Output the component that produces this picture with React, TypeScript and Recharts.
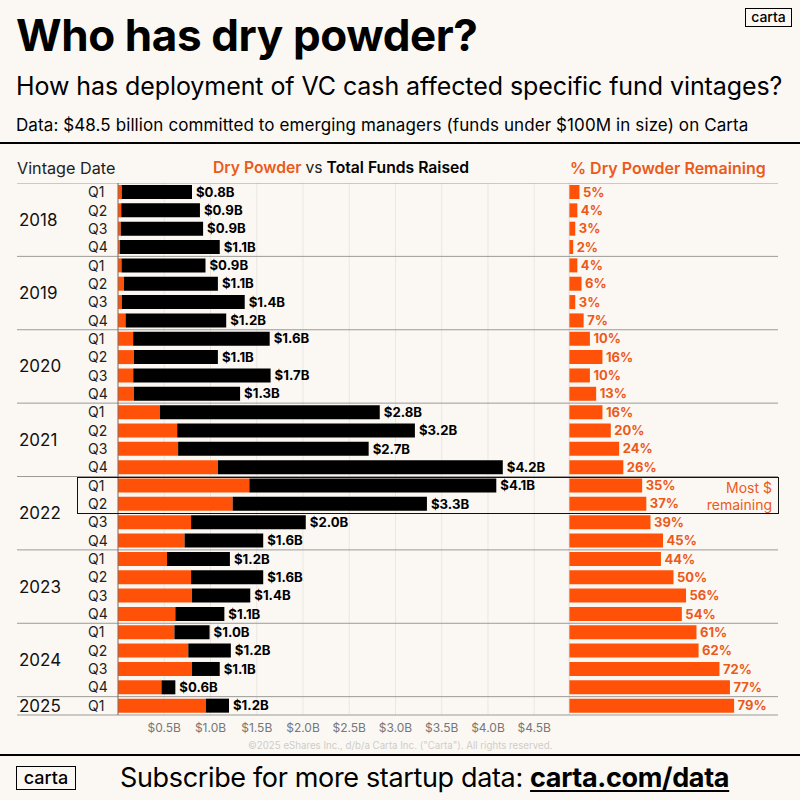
import React from 'react'
import { BarChart, Bar, XAxis, YAxis, CartesianGrid, ReferenceLine, LabelList } from 'recharts'

const FONT = 'Inter, sans-serif'
const ORANGE = '#FF5208'
const ORANGE_TEXT = '#EC5A1A'
const BG = '#FBF8F4'

const years = ['2018', '2019', '2020', '2021', '2022', '2023', '2024', '2025']
const quarters = [
  'Q1', 'Q2', 'Q3', 'Q4', 'Q1', 'Q2', 'Q3', 'Q4', 'Q1', 'Q2', 'Q3', 'Q4', 'Q1', 'Q2', 'Q3',
  'Q4', 'Q1', 'Q2', 'Q3', 'Q4', 'Q1', 'Q2', 'Q3', 'Q4', 'Q1', 'Q2', 'Q3', 'Q4', 'Q1',
]
const dryPowder = [
  0.04, 0.035, 0.03, 0.022, 0.038, 0.065, 0.041, 0.082, 0.164, 0.173, 0.165, 0.172, 0.453, 0.64, 0.65,
  1.08, 1.42, 1.24, 0.79, 0.72, 0.53, 0.79, 0.8, 0.62, 0.61, 0.76, 0.8, 0.47, 0.95,
]
const totalRaised = [
  0.8, 0.886, 0.92, 1.1, 0.946, 1.08, 1.37, 1.17, 1.64, 1.08, 1.65, 1.32, 2.83, 3.21, 2.71,
  4.16, 4.09, 3.34, 2.03, 1.57, 1.21, 1.57, 1.43, 1.15, 0.99, 1.22, 1.1, 0.62, 1.2,
]
const totalLabels = [
  '$0.8B', '$0.9B', '$0.9B', '$1.1B', '$0.9B', '$1.1B', '$1.4B', '$1.2B', '$1.6B', '$1.1B', '$1.7B', '$1.3B', '$2.8B', '$3.2B', '$2.7B',
  '$4.2B', '$4.1B', '$3.3B', '$2.0B', '$1.6B', '$1.2B', '$1.6B', '$1.4B', '$1.1B', '$1.0B', '$1.2B', '$1.1B', '$0.6B', '$1.2B',
]
const pctRemaining = [
  5, 4, 3, 2, 4, 6, 3, 7, 10, 16, 10, 13, 16, 20, 24,
  26, 35, 37, 39, 45, 44, 50, 56, 54, 61, 62, 72, 77, 79,
]
const dollarTicks = [0.5, 1, 1.5, 2, 2.5, 3, 3.5, 4, 4.5]
const dollarTickLabels = ['$0.5B', '$1.0B', '$1.5B', '$2.0B', '$2.5B', '$3.0B', '$3.5B', '$4.0B', '$4.5B']
const pctTicks = [20, 40, 60, 80, 100]

const rows = quarters.map((q, i) => ({
  key: `${years[Math.floor(i / 4)]} ${q}`,
  year: years[Math.floor(i / 4)],
  quarter: q,
  dry: dryPowder[i],
  rest: totalRaised[i] - dryPowder[i],
  label: totalLabels[i],
  pct: pctRemaining[i],
}))

const yearStarts = rows.filter((r) => r.quarter === 'Q1').map((r) => r.key)
const lastKey = rows[rows.length - 1].key

// Quarter label, plus the year label centred on its group
const RowTick = ({ y, index }: any) => {
  const row = rows[index]
  if (!row) return null
  const single = row.year === '2025'
  const showYear = single || row.quarter === 'Q2'
  return (
    <g fontFamily={FONT}>
      {showYear && (
        <text x={19} y={single ? y : y + 9.2} dy={6} fontSize={17} fill="#111">{row.year}</text>
      )}
      <text x={88} y={y} dy={5} fontSize={14} fill="#222">{row.quarter}</text>
    </g>
  )
}

const Text = ({ left, top, size, weight = 400, color = '#000', children, style }: any) => (
  <div style={{ position: 'absolute', left, top, fontSize: size, fontWeight: weight, color, lineHeight: 1, whiteSpace: 'nowrap', ...style }}>
    {children}
  </div>
)

const Logo = ({ left, top, width, height, size, border }: any) => (
  <div style={{
    position: 'absolute', left, top, width, height, boxSizing: 'border-box', border: `${border}px solid #000`,
    display: 'flex', alignItems: 'center', justifyContent: 'center', fontSize: size, fontWeight: 500, paddingBottom: 2,
  }}>carta</div>
)

const Rule = ({ top }: { top: number }) => (
  <div style={{ position: 'absolute', left: 0, top, width: 800, height: 2, background: '#000' }} />
)

export default function App() {
  return (
    <div style={{ position: 'absolute', left: 0, top: 0, width: 800, height: 800, background: BG, fontFamily: FONT, overflow: 'hidden' }}>
      <Text left={16} top={13} size={44} weight={700} style={{ letterSpacing: -0.4 }}>Who has dry powder?</Text>
      <Logo left={745} top={8} width={47} height={19} size={14} border={1.5} />
      <Text left={16} top={74} size={25} style={{ letterSpacing: -0.08 }}>How has deployment of VC cash affected specific fund vintages?</Text>
      <Text left={16} top={117} size={17} style={{ letterSpacing: 0.1 }}>Data: $48.5 billion committed to emerging managers (funds under $100M in size) on Carta</Text>
      <Rule top={142} />

      <Text left={17} top={160} size={16.2} color="#222">Vintage Date</Text>
      <Text left={213} top={160} size={15.7} weight={600} color={ORANGE_TEXT}>
        Dry Powder <span style={{ fontWeight: 400, color: '#222' }}>vs</span> <span style={{ color: '#000' }}>Total Funds Raised</span>
      </Text>
      <Text left={570} top={160} size={16} weight={600} color={ORANGE_TEXT}>% Dry Powder Remaining</Text>

      <div style={{ position: 'absolute', left: 0, top: 183 }}>
        <BarChart width={569} height={572} data={rows} layout="vertical" margin={{ top: 0, right: 0, bottom: 0, left: 0 }}>
          <CartesianGrid horizontal={false} stroke="#EAE7E1" />
          <XAxis
            type="number"
            domain={[0, 4.876]}
            ticks={dollarTicks}
            axisLine={false}
            tickLine={false}
            height={40}
            tick={{ fontSize: 12, fill: '#777', fontFamily: FONT }}
            tickFormatter={(v: number) => dollarTickLabels[dollarTicks.indexOf(v)]}
          />
          <YAxis type="category" dataKey="key" width={118} interval={0} tick={<RowTick />} tickLine={false} axisLine={{ stroke: '#8A6A58' }} />
          {yearStarts.map((k) => (
            <ReferenceLine key={k} segment={[{ x: -1.092, y: k }, { x: 4.876, y: k }]} position="start" ifOverflow="visible" stroke="#9B9A96" />
          ))}
          <ReferenceLine segment={[{ x: -1.092, y: lastKey }, { x: 4.876, y: lastKey }]} position="end" ifOverflow="visible" stroke="#9B9A96" />
          <Bar dataKey="dry" stackId="a" fill={ORANGE} barSize={14} isAnimationActive={false} />
          <Bar dataKey="rest" stackId="a" fill="#000" barSize={14} isAnimationActive={false}>
            <LabelList dataKey="label" position="right" offset={4} fontSize={13.2} fontWeight={700} fill="#000" fontFamily={FONT} />
          </Bar>
        </BarChart>
      </div>

      <div style={{ position: 'absolute', left: 569, top: 183 }}>
        <BarChart width={210} height={572} data={rows} layout="vertical" margin={{ top: 0, right: 1, bottom: 0, left: 0 }}>
          <CartesianGrid horizontal={false} stroke="#EAE7E1" verticalValues={pctTicks} />
          <XAxis type="number" domain={[0, 100]} ticks={pctTicks} axisLine={false} tickLine={false} tick={false} height={40} />
          <YAxis type="category" dataKey="key" hide interval={0} />
          <ReferenceLine x={0} stroke="#D9CFC4" />
          {yearStarts.map((k) => (
            <ReferenceLine key={k} y={k} position="start" stroke="#9B9A96" />
          ))}
          <ReferenceLine y={lastKey} position="end" stroke="#9B9A96" />
          <Bar dataKey="pct" fill={ORANGE} barSize={14} isAnimationActive={false}>
            <LabelList dataKey="pct" position="right" offset={3.5} fontSize={13} fontWeight={700} fill={ORANGE_TEXT} fontFamily={FONT} formatter={(v: number) => `${v}%`} />
          </Bar>
        </BarChart>
      </div>

      {/* 2022 Q1-Q2 highlight */}
      <div style={{ position: 'absolute', left: 77, top: 477, width: 702, height: 37, boxSizing: 'border-box', border: '1.5px solid #111' }} />
      <Text left={672} top={479} size={14} color={ORANGE_TEXT} style={{ width: 100, textAlign: 'right', lineHeight: '17px' }}>
        Most $<br />remaining
      </Text>

      <Text left={248} top={741} size={9.7} color="#CFCCC7">©2025 eShares Inc., d/b/a Carta Inc. ("Carta"). All rights reserved.</Text>
      <Rule top={754} />
      <Logo left={16} top={766} width={60} height={24} size={18} border={1.5} />
      <Text left={120} top={764} size={27} style={{ letterSpacing: -0.35 }}>
        Subscribe for more startup data: <span style={{ fontWeight: 700, textDecoration: 'underline', textUnderlineOffset: 3 }}>carta.com/data</span>
      </Text>
    </div>
  )
}
